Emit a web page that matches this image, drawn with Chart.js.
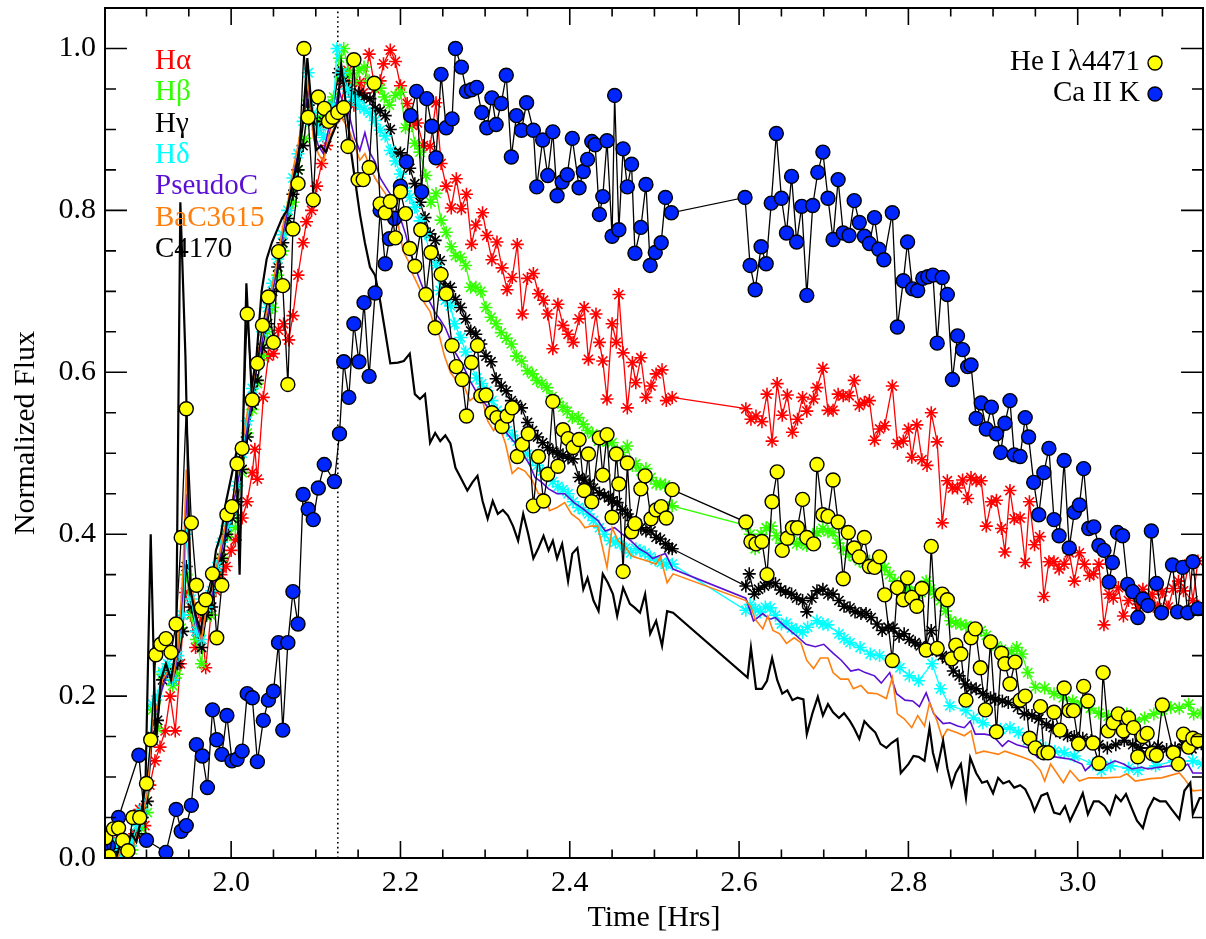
<!DOCTYPE html>
<html>
<head>
<meta charset="utf-8">
<script src="https://cdn.jsdelivr.net/npm/chart.js@4.4.1/dist/chart.umd.min.js"></script>
<style>
  html, body { margin: 0; padding: 0; background: #fff; }
  canvas { display: block; }
</style>
</head>
<body>
<canvas id="flare_chart" width="1206" height="939"></canvas>
<script>
// light curves, [time (hrs), normalized flux]
const hAlpha = [[1.853,0.01],[1.858,0.02],[1.863,0],[1.868,0.05],[1.874,0.02],[1.880,0.01],[1.886,0.03],[1.892,0.06],[1.898,0.04],[1.904,0.09],[1.910,0.12],[1.916,0.137],[1.922,0.157],[1.928,0.20],[1.934,0.157],[1.940,0.24],[1.946,0.328],[1.952,0.30],[1.958,0.26],[1.964,0.30],[1.970,0.235],[1.976,0.30],[1.982,0.33],[1.988,0.35],[1.994,0.36],[2.000,0.38],[2.005,0.393],[2.013,0.42],[2.019,0.44],[2.025,0.476],[2.028,0.505],[2.031,0.468],[2.038,0.569],[2.044,0.62],[2.050,0.623],[2.056,0.652],[2.062,0.66],[2.068,0.64],[2.073,0.67],[2.079,0.72],[2.085,0.76],[2.089,0.786],[2.095,0.80],[2.101,0.83],[2.107,0.858],[2.113,0.88],[2.120,0.915],[2.128,0.917],[2.134,0.957],[2.138,0.973],[2.145,0.93],[2.152,0.958],[2.156,0.945],[2.163,0.993],[2.170,0.95],[2.176,0.96],[2.180,0.981],[2.188,0.998],[2.194,0.984],[2.200,0.954],[2.208,0.932],[2.214,0.905],[2.220,0.908],[2.227,0.88],[2.235,0.879],[2.242,0.933],[2.248,0.858],[2.254,0.83],[2.260,0.803],[2.266,0.839],[2.272,0.802],[2.278,0.82],[2.284,0.758],[2.289,0.782],[2.297,0.797],[2.302,0.769],[2.308,0.739],[2.314,0.761],[2.320,0.729],[2.326,0.702],[2.332,0.717],[2.338,0.758],[2.344,0.672],[2.350,0.716],[2.357,0.722],[2.363,0.697],[2.369,0.689],[2.374,0.672],[2.380,0.629],[2.386,0.684],[2.392,0.658],[2.398,0.647],[2.404,0.637],[2.411,0.666],[2.417,0.68],[2.422,0.616],[2.431,0.672],[2.435,0.637],[2.439,0.614],[2.444,0.567],[2.450,0.66],[2.455,0.637],[2.458,0.696],[2.463,0.624],[2.468,0.556],[2.474,0.612],[2.478,0.587],[2.484,0.618],[2.490,0.569],[2.496,0.583],[2.502,0.598],[2.509,0.603],[2.514,0.565],[2.521,0.569],
  [2.608,0.555],[2.614,0.542],[2.620,0.546],[2.627,0.539],[2.633,0.573],[2.639,0.515],[2.645,0.586],[2.651,0.547],[2.657,0.572],[2.663,0.526],[2.669,0.542],[2.675,0.569],[2.680,0.552],[2.688,0.567],[2.692,0.581],[2.699,0.605],[2.705,0.553],[2.711,0.553],[2.717,0.573],[2.723,0.571],[2.730,0.571],[2.736,0.59],[2.742,0.559],[2.748,0.563],[2.754,0.565],[2.760,0.516],[2.766,0.53],[2.772,0.534],[2.781,0.583],[2.787,0.512],[2.794,0.515],[2.800,0.53],[2.804,0.495],[2.810,0.535],[2.816,0.492],[2.822,0.485],[2.827,0.55],[2.834,0.514],[2.840,0.414],[2.846,0.466],[2.852,0.457],[2.858,0.457],[2.864,0.467],[2.870,0.444],[2.874,0.47],[2.880,0.466],[2.886,0.466],[2.892,0.41],[2.898,0.44],[2.904,0.442],[2.910,0.407],[2.914,0.378],[2.920,0.454],[2.925,0.419],[2.932,0.42],[2.938,0.365],[2.943,0.44],[2.949,0.387],[2.955,0.397],[2.960,0.323],[2.966,0.366],[2.972,0.366],[2.978,0.357],[2.984,0.363],[2.990,0.377],[2.996,0.342],[3.002,0.377],[3.008,0.363],[3.014,0.349],[3.019,0.351],[3.025,0.363],[3.031,0.288],[3.037,0.326],[3.042,0.321],[3.048,0.334],[3.054,0.299],[3.060,0.318],[3.066,0.324],[3.071,0.309],[3.077,0.332],[3.083,0.314],[3.088,0.326],[3.094,0.309],[3.100,0.329],[3.107,0.31],[3.113,0.333],[3.119,0.342],[3.125,0.33],[3.131,0.363],[3.136,0.318],[3.142,0.367]];

const hBeta = [[1.853,0],[1.859,0.02],[1.865,0.01],[1.871,0],[1.877,0.02],[1.883,0.01],[1.889,0.03],[1.894,0.036],[1.901,0.056],[1.907,0.183],[1.913,0.16],[1.919,0.227],[1.925,0.234],[1.931,0.213],[1.936,0.227],[1.941,0.284],[1.947,0.35],[1.953,0.30],[1.959,0.27],[1.965,0.24],[1.970,0.299],[1.976,0.30],[1.983,0.346],[1.989,0.371],[1.995,0.397],[2.005,0.408],[2.013,0.476],[2.019,0.525],[2.025,0.554],[2.031,0.586],[2.037,0.62],[2.043,0.65],[2.049,0.68],[2.055,0.72],[2.061,0.75],[2.067,0.78],[2.073,0.81],[2.079,0.85],[2.087,0.889],[2.091,0.936],[2.097,0.92],[2.103,0.91],[2.109,0.92],[2.115,0.93],[2.121,0.94],[2.128,0.988],[2.133,1.0],[2.139,0.97],[2.145,0.96],[2.151,0.973],[2.157,0.977],[2.163,0.96],[2.169,0.955],[2.176,0.951],[2.181,0.94],[2.187,0.93],[2.194,0.942],[2.200,0.946],[2.206,0.902],[2.211,0.92],[2.217,0.883],[2.223,0.872],[2.230,0.843],[2.236,0.81],[2.242,0.821],[2.248,0.788],[2.254,0.773],[2.260,0.755],[2.265,0.744],[2.271,0.742],[2.277,0.732],[2.283,0.705],[2.289,0.705],[2.295,0.70],[2.301,0.68],[2.307,0.668],[2.313,0.66],[2.319,0.649],[2.325,0.642],[2.331,0.635],[2.337,0.62],[2.343,0.614],[2.350,0.602],[2.356,0.598],[2.361,0.59],[2.367,0.586],[2.373,0.581],[2.379,0.57],[2.386,0.563],[2.392,0.557],[2.397,0.552],[2.403,0.544],[2.410,0.544],[2.416,0.536],[2.421,0.528],[2.427,0.524],[2.434,0.515],[2.439,0.516],[2.445,0.514],[2.450,0.513],[2.456,0.503],[2.462,0.501],[2.468,0.509],[2.474,0.485],[2.478,0.487],[2.484,0.478],[2.490,0.481],[2.496,0.47],[2.502,0.462],[2.507,0.462],[2.513,0.461],[2.517,0.458],[2.521,0.435],
  [2.608,0.411],[2.613,0.40],[2.619,0.382],[2.626,0.40],[2.632,0.408],[2.638,0.41],[2.644,0.398],[2.650,0.389],[2.656,0.392],[2.662,0.402],[2.668,0.388],[2.674,0.39],[2.680,0.386],[2.687,0.398],[2.692,0.402],[2.699,0.407],[2.705,0.403],[2.711,0.402],[2.717,0.389],[2.723,0.382],[2.730,0.375],[2.736,0.372],[2.742,0.367],[2.748,0.364],[2.754,0.367],[2.760,0.361],[2.766,0.36],[2.772,0.359],[2.778,0.35],[2.784,0.342],[2.791,0.339],[2.797,0.334],[2.803,0.33],[2.809,0.33],[2.815,0.328],[2.821,0.342],[2.826,0.332],[2.832,0.326],[2.838,0.318],[2.844,0.305],[2.850,0.293],[2.856,0.29],[2.862,0.289],[2.868,0.287],[2.874,0.285],[2.880,0.283],[2.886,0.281],[2.892,0.275],[2.898,0.268],[2.904,0.262],[2.910,0.258],[2.916,0.252],[2.922,0.255],[2.928,0.26],[2.934,0.252],[2.941,0.229],[2.950,0.211],[2.961,0.21],[2.972,0.203],[2.983,0.198],[2.994,0.194],[3.004,0.19],[3.015,0.185],[3.025,0.179],[3.036,0.175],[3.047,0.178],[3.058,0.178],[3.068,0.169],[3.079,0.173],[3.090,0.178],[3.100,0.183],[3.110,0.186],[3.120,0.185],[3.131,0.19],[3.137,0.178],[3.146,0.179]];

const hGamma = [[1.853,0],[1.865,0.01],[1.877,0.02],[1.889,0.03],[1.895,0.05],[1.901,0.07],[1.907,0.15],[1.913,0.17],[1.919,0.22],[1.925,0.23],[1.931,0.22],[1.937,0.24],[1.943,0.28],[1.947,0.36],[1.953,0.31],[1.959,0.28],[1.965,0.26],[1.971,0.30],[1.977,0.31],[1.983,0.35],[1.989,0.37],[1.995,0.40],[2.001,0.42],[2.007,0.44],[2.013,0.48],[2.019,0.52],[2.025,0.56],[2.031,0.59],[2.037,0.63],[2.043,0.66],[2.049,0.70],[2.055,0.73],[2.061,0.76],[2.067,0.79],[2.073,0.82],[2.079,0.85],[2.085,0.88],[2.091,0.93],[2.097,0.91],[2.103,0.90],[2.109,0.91],[2.115,0.92],[2.121,0.93],[2.127,0.97],[2.133,0.96],[2.139,0.95],[2.145,0.94],[2.151,0.945],[2.157,0.94],[2.164,0.938],[2.170,0.926],[2.176,0.923],[2.182,0.917],[2.188,0.90],[2.194,0.871],[2.200,0.871],[2.206,0.86],[2.211,0.852],[2.217,0.833],[2.223,0.81],[2.229,0.791],[2.235,0.771],[2.241,0.763],[2.247,0.738],[2.253,0.705],[2.259,0.705],[2.265,0.69],[2.271,0.68],[2.277,0.666],[2.283,0.651],[2.289,0.647],[2.295,0.635],[2.301,0.62],[2.307,0.613],[2.313,0.592],[2.319,0.583],[2.325,0.577],[2.331,0.565],[2.337,0.56],[2.343,0.556],[2.350,0.538],[2.356,0.528],[2.362,0.52],[2.368,0.513],[2.374,0.507],[2.380,0.503],[2.386,0.499],[2.392,0.498],[2.398,0.494],[2.404,0.493],[2.411,0.47],[2.417,0.467],[2.423,0.462],[2.428,0.457],[2.435,0.451],[2.441,0.448],[2.446,0.445],[2.450,0.441],[2.456,0.439],[2.462,0.43],[2.468,0.425],[2.473,0.417],[2.479,0.413],[2.484,0.408],[2.490,0.404],[2.496,0.404],[2.502,0.396],[2.507,0.394],[2.513,0.388],[2.517,0.383],[2.521,0.382],
  [2.608,0.336],[2.612,0.351],[2.618,0.326],[2.623,0.332],[2.630,0.336],[2.636,0.34],[2.643,0.339],[2.649,0.331],[2.655,0.329],[2.662,0.326],[2.668,0.321],[2.675,0.318],[2.680,0.304],[2.686,0.321],[2.692,0.33],[2.699,0.332],[2.705,0.326],[2.711,0.326],[2.718,0.318],[2.724,0.311],[2.731,0.309],[2.737,0.304],[2.744,0.302],[2.750,0.302],[2.756,0.297],[2.763,0.289],[2.769,0.281],[2.776,0.285],[2.782,0.284],[2.789,0.274],[2.795,0.277],[2.801,0.27],[2.808,0.266],[2.814,0.262],[2.820,0.258],[2.827,0.281],[2.833,0.256],[2.840,0.25],[2.845,0.246],[2.853,0.231],[2.860,0.225],[2.867,0.215],[2.874,0.21],[2.880,0.209],[2.888,0.203],[2.897,0.198],[2.903,0.196],[2.911,0.194],[2.918,0.192],[2.929,0.186],[2.937,0.178],[2.946,0.176],[2.954,0.172],[2.963,0.165],[2.971,0.161],[2.979,0.155],[2.988,0.151],[2.996,0.15],[3.006,0.148],[3.016,0.145],[3.025,0.14],[3.035,0.136],[3.045,0.14],[3.055,0.145],[3.065,0.14],[3.074,0.136],[3.085,0.136],[3.095,0.138],[3.105,0.134],[3.115,0.136],[3.125,0.14],[3.135,0.135],[3.146,0.141]];

const hDelta = [[1.853,0],[1.859,0.01],[1.865,0.02],[1.871,0],[1.877,0.01],[1.883,0.02],[1.889,0.04],[1.895,0.06],[1.901,0.09],[1.907,0.19],[1.913,0.20],[1.919,0.23],[1.925,0.24],[1.931,0.22],[1.937,0.25],[1.943,0.30],[1.947,0.40],[1.953,0.32],[1.959,0.28],[1.965,0.27],[1.971,0.31],[1.977,0.33],[1.983,0.36],[1.989,0.39],[1.995,0.41],[2.001,0.43],[2.007,0.46],[2.013,0.50],[2.019,0.54],[2.025,0.58],[2.031,0.61],[2.037,0.65],[2.043,0.68],[2.049,0.71],[2.055,0.74],[2.061,0.77],[2.067,0.80],[2.073,0.84],[2.079,0.87],[2.085,0.91],[2.091,0.97],[2.097,0.92],[2.103,0.90],[2.109,0.89],[2.115,0.91],[2.121,0.93],[2.125,1.0],[2.131,0.97],[2.137,0.95],[2.143,0.94],[2.148,0.935],[2.152,0.929],[2.157,0.925],[2.164,0.92],[2.170,0.911],[2.176,0.899],[2.182,0.892],[2.188,0.874],[2.194,0.861],[2.200,0.845],[2.206,0.824],[2.211,0.816],[2.217,0.804],[2.223,0.787],[2.229,0.771],[2.235,0.746],[2.242,0.732],[2.247,0.701],[2.253,0.689],[2.259,0.682],[2.264,0.66],[2.271,0.643],[2.277,0.625],[2.283,0.61],[2.290,0.593],[2.296,0.586],[2.302,0.577],[2.308,0.565],[2.314,0.553],[2.320,0.54],[2.326,0.528],[2.332,0.522],[2.338,0.515],[2.344,0.505],[2.350,0.499],[2.356,0.492],[2.362,0.485],[2.368,0.478],[2.374,0.472],[2.380,0.465],[2.386,0.459],[2.392,0.455],[2.398,0.45],[2.404,0.44],[2.410,0.433],[2.416,0.43],[2.422,0.425],[2.428,0.417],[2.435,0.408],[2.441,0.40],[2.448,0.392],[2.454,0.39],[2.460,0.388],[2.466,0.383],[2.472,0.377],[2.478,0.382],[2.483,0.38],[2.489,0.377],[2.495,0.372],[2.501,0.368],[2.508,0.365],[2.514,0.363],[2.521,0.363],
  [2.608,0.306],[2.613,0.313],[2.619,0.308],[2.625,0.304],[2.631,0.31],[2.637,0.309],[2.643,0.30],[2.650,0.289],[2.656,0.29],[2.662,0.284],[2.668,0.282],[2.675,0.279],[2.681,0.285],[2.692,0.293],[2.699,0.289],[2.705,0.288],[2.718,0.277],[2.724,0.271],[2.731,0.266],[2.743,0.26],[2.755,0.252],[2.766,0.25],[2.790,0.235],[2.801,0.225],[2.812,0.219],[2.828,0.24],[2.838,0.209],[2.849,0.188],[2.868,0.182],[2.877,0.173],[2.888,0.167],[2.909,0.159],[2.920,0.161],[2.930,0.155],[2.941,0.145],[2.952,0.141],[2.962,0.136],[2.973,0.132],[2.984,0.13],[2.996,0.126],[3.018,0.116],[3.028,0.108],[3.039,0.114],[3.060,0.111],[3.071,0.108],[3.092,0.114],[3.114,0.12],[3.136,0.12],[3.147,0.116]];

const pseudoC = [[1.853,0],[1.859,0.01],[1.865,0],[1.871,0.01],[1.877,0.02],[1.883,0.01],[1.889,0.03],[1.895,0.05],[1.901,0.08],[1.907,0.16],[1.913,0.19],[1.919,0.21],[1.925,0.23],[1.931,0.22],[1.937,0.25],[1.943,0.33],[1.947,0.45],[1.953,0.33],[1.959,0.29],[1.965,0.27],[1.971,0.31],[1.977,0.32],[1.983,0.36],[1.989,0.38],[1.995,0.41],[2.001,0.43],[2.007,0.46],[2.013,0.49],[2.019,0.53],[2.025,0.57],[2.031,0.61],[2.037,0.64],[2.043,0.67],[2.049,0.70],[2.055,0.73],[2.061,0.77],[2.067,0.80],[2.073,0.84],[2.079,0.87],[2.085,0.91],[2.091,0.95],[2.097,0.90],[2.103,0.88],[2.109,0.87],[2.115,0.90],[2.121,0.91],[2.127,0.95],[2.133,0.93],[2.139,0.92],[2.146,0.889],[2.152,0.874],[2.158,0.896],[2.164,0.871],[2.170,0.86],[2.176,0.84],[2.182,0.83],[2.188,0.82],[2.194,0.806],[2.200,0.79],[2.206,0.771],[2.212,0.746],[2.218,0.728],[2.224,0.711],[2.230,0.695],[2.235,0.686],[2.242,0.672],[2.247,0.665],[2.253,0.655],[2.259,0.64],[2.265,0.624],[2.274,0.608],[2.282,0.59],[2.289,0.577],[2.297,0.565],[2.306,0.553],[2.317,0.54],[2.326,0.524],[2.336,0.512],[2.346,0.497],[2.352,0.487],[2.359,0.47],[2.367,0.464],[2.375,0.456],[2.385,0.45],[2.394,0.45],[2.405,0.439],[2.415,0.432],[2.423,0.425],[2.433,0.417],[2.442,0.404],[2.453,0.408],[2.462,0.40],[2.472,0.392],[2.482,0.382],[2.492,0.376],[2.498,0.37],[2.505,0.373],[2.513,0.376],[2.519,0.363],[2.522,0.357],
  [2.608,0.321],[2.617,0.293],[2.628,0.302],[2.636,0.295],[2.643,0.297],[2.653,0.287],[2.665,0.277],[2.679,0.264],[2.690,0.261],[2.700,0.264],[2.711,0.253],[2.721,0.244],[2.732,0.231],[2.741,0.233],[2.749,0.229],[2.760,0.225],[2.768,0.216],[2.778,0.229],[2.786,0.203],[2.796,0.195],[2.805,0.194],[2.813,0.187],[2.821,0.204],[2.830,0.178],[2.841,0.166],[2.849,0.167],[2.858,0.163],[2.866,0.161],[2.873,0.169],[2.879,0.153],[2.890,0.153],[2.900,0.151],[2.911,0.138],[2.918,0.145],[2.928,0.14],[2.942,0.136],[2.953,0.124],[2.966,0.126],[2.979,0.124],[2.992,0.122],[3.005,0.116],[3.009,0.108],[3.021,0.12],[3.032,0.114],[3.044,0.12],[3.054,0.116],[3.064,0.11],[3.075,0.112],[3.083,0.11],[3.095,0.112],[3.109,0.114],[3.121,0.11],[3.130,0.116],[3.136,0.105],[3.147,0.105]];

const baC3615 = [[1.853,0],[1.859,0.01],[1.865,0],[1.871,0.01],[1.877,0.02],[1.883,0.01],[1.889,0.03],[1.895,0.05],[1.901,0.08],[1.907,0.17],[1.913,0.19],[1.919,0.22],[1.925,0.23],[1.931,0.22],[1.937,0.26],[1.943,0.35],[1.947,0.48],[1.953,0.34],[1.959,0.30],[1.965,0.27],[1.971,0.31],[1.977,0.33],[1.983,0.36],[1.989,0.39],[1.995,0.42],[2.001,0.44],[2.007,0.47],[2.013,0.51],[2.019,0.55],[2.025,0.58],[2.031,0.62],[2.037,0.65],[2.043,0.68],[2.049,0.71],[2.055,0.74],[2.061,0.78],[2.067,0.81],[2.073,0.85],[2.079,0.88],[2.085,0.92],[2.091,0.96],[2.097,0.89],[2.103,0.87],[2.109,0.86],[2.115,0.89],[2.121,0.90],[2.127,0.92],[2.133,0.91],[2.139,0.90],[2.146,0.88],[2.152,0.862],[2.158,0.87],[2.164,0.853],[2.170,0.84],[2.176,0.83],[2.182,0.821],[2.188,0.808],[2.196,0.791],[2.203,0.75],[2.209,0.738],[2.215,0.72],[2.222,0.705],[2.228,0.686],[2.235,0.675],[2.238,0.664],[2.245,0.649],[2.252,0.62],[2.259,0.60],[2.266,0.59],[2.276,0.581],[2.282,0.565],[2.288,0.57],[2.296,0.569],[2.303,0.54],[2.310,0.528],[2.316,0.536],[2.324,0.512],[2.332,0.475],[2.339,0.482],[2.347,0.478],[2.356,0.466],[2.363,0.45],[2.370,0.45],[2.376,0.429],[2.385,0.433],[2.394,0.439],[2.402,0.425],[2.411,0.418],[2.418,0.408],[2.425,0.41],[2.433,0.41],[2.444,0.359],[2.450,0.408],[2.457,0.392],[2.465,0.385],[2.473,0.373],[2.482,0.37],[2.492,0.367],[2.502,0.363],[2.507,0.372],[2.515,0.34],[2.522,0.351],
  [2.608,0.318],[2.614,0.31],[2.619,0.295],[2.628,0.283],[2.634,0.299],[2.640,0.281],[2.648,0.277],[2.656,0.265],[2.665,0.272],[2.673,0.266],[2.680,0.244],[2.688,0.234],[2.696,0.247],[2.705,0.247],[2.711,0.229],[2.720,0.221],[2.729,0.221],[2.735,0.209],[2.744,0.213],[2.752,0.204],[2.763,0.203],[2.774,0.197],[2.781,0.223],[2.787,0.178],[2.795,0.172],[2.804,0.161],[2.811,0.176],[2.819,0.163],[2.825,0.192],[2.834,0.169],[2.840,0.148],[2.846,0.159],[2.857,0.155],[2.866,0.151],[2.874,0.157],[2.880,0.129],[2.889,0.132],[2.898,0.13],[2.906,0.128],[2.914,0.132],[2.936,0.124],[2.946,0.12],[2.956,0.108],[2.961,0.095],[2.968,0.116],[2.983,0.093],[2.991,0.108],[3.002,0.095],[3.013,0.099],[3.033,0.099],[3.050,0.1],[3.058,0.104],[3.068,0.095],[3.086,0.098],[3.099,0.099],[3.120,0.105],[3.126,0.098],[3.136,0.083],[3.149,0.084]];

const c4170 = [[1.852,0],[1.858,0.01],[1.864,0],[1.870,0.02],[1.876,0.01],[1.882,0.03],[1.888,0.02],[1.894,0.05],[1.899,0.10],[1.905,0.40],[1.911,0.14],[1.917,0.22],[1.923,0.24],[1.929,0.22],[1.935,0.26],[1.940,0.81],[1.946,0.62],[1.952,0.33],[1.958,0.30],[1.964,0.28],[1.970,0.32],[1.976,0.33],[1.982,0.38],[1.988,0.40],[1.994,0.44],[2.000,0.47],[2.006,0.50],[2.010,0.35],[2.018,0.71],[2.024,0.58],[2.030,0.62],[2.036,0.70],[2.042,0.74],[2.048,0.76],[2.054,0.775],[2.060,0.79],[2.066,0.80],[2.072,0.83],[2.078,0.858],[2.084,0.90],[2.090,0.988],[2.094,0.94],[2.100,0.874],[2.106,0.88],[2.112,0.872],[2.118,0.89],[2.124,0.905],[2.130,0.98],[2.136,0.927],[2.142,0.87],[2.146,0.84],[2.152,0.796],[2.158,0.76],[2.164,0.73],[2.170,0.72],[2.176,0.688],[2.182,0.65],[2.188,0.611],[2.197,0.612],[2.204,0.614],[2.211,0.623],[2.217,0.573],[2.223,0.567],[2.229,0.573],[2.235,0.513],[2.241,0.525],[2.247,0.515],[2.253,0.522],[2.259,0.512],[2.265,0.482],[2.271,0.47],[2.279,0.454],[2.285,0.464],[2.291,0.472],[2.297,0.441],[2.303,0.419],[2.309,0.441],[2.315,0.425],[2.321,0.43],[2.327,0.423],[2.333,0.41],[2.339,0.392],[2.345,0.425],[2.351,0.40],[2.357,0.37],[2.363,0.383],[2.369,0.398],[2.375,0.38],[2.380,0.392],[2.385,0.37],[2.391,0.388],[2.398,0.342],[2.403,0.376],[2.409,0.383],[2.416,0.332],[2.421,0.346],[2.428,0.318],[2.434,0.305],[2.439,0.351],[2.445,0.34],[2.451,0.326],[2.456,0.299],[2.463,0.334],[2.471,0.314],[2.477,0.309],[2.483,0.303],[2.489,0.326],[2.495,0.277],[2.502,0.293],[2.509,0.262],[2.515,0.305],[2.522,0.303],
  [2.610,0.223],[2.614,0.26],[2.620,0.209],[2.627,0.209],[2.633,0.219],[2.639,0.247],[2.645,0.22],[2.651,0.203],[2.657,0.207],[2.663,0.195],[2.669,0.198],[2.676,0.196],[2.680,0.153],[2.687,0.18],[2.693,0.199],[2.699,0.176],[2.705,0.19],[2.711,0.18],[2.718,0.173],[2.724,0.179],[2.731,0.169],[2.736,0.16],[2.742,0.147],[2.748,0.169],[2.755,0.161],[2.761,0.155],[2.767,0.141],[2.774,0.136],[2.780,0.142],[2.787,0.147],[2.791,0.105],[2.800,0.116],[2.806,0.126],[2.812,0.125],[2.819,0.12],[2.825,0.161],[2.829,0.13],[2.834,0.11],[2.841,0.145],[2.846,0.111],[2.851,0.089],[2.856,0.105],[2.862,0.116],[2.868,0.074],[2.873,0.124],[2.880,0.105],[2.887,0.093],[2.893,0.095],[2.900,0.08],[2.906,0.099],[2.912,0.092],[2.919,0.095],[2.925,0.087],[2.932,0.09],[2.938,0.085],[2.945,0.07],[2.949,0.058],[2.957,0.077],[2.964,0.08],[2.972,0.056],[2.979,0.054],[2.985,0.064],[2.991,0.046],[3.001,0.068],[3.006,0.08],[3.012,0.054],[3.019,0.07],[3.025,0.07],[3.032,0.064],[3.038,0.054],[3.045,0.077],[3.051,0.07],[3.057,0.079],[3.064,0.061],[3.070,0.046],[3.077,0.037],[3.083,0.06],[3.090,0.074],[3.097,0.07],[3.104,0.07],[3.111,0.06],[3.120,0.048],[3.126,0.083],[3.133,0.093],[3.136,0.054],[3.144,0.074],[3.149,0.074]];

const heI4471 = [[1.852,0.025],[1.856,0.002],[1.861,0.036],[1.867,0.037],[1.872,0.022],[1.878,0.009],[1.884,0.05],[1.892,0.05],[1.900,0.092],[1.905,0.146],[1.911,0.251],[1.917,0.264],[1.923,0.271],[1.929,0.254],[1.935,0.289],[1.941,0.396],[1.947,0.555],[1.953,0.414],[1.959,0.337],[1.965,0.309],[1.970,0.319],[1.978,0.351],[1.983,0.272],[1.989,0.337],[1.995,0.424],[2.001,0.434],[2.007,0.487],[2.013,0.506],[2.019,0.672],[2.025,0.566],[2.031,0.611],[2.037,0.658],[2.044,0.693],[2.050,0.637],[2.056,0.749],[2.061,0.707],[2.067,0.585],[2.073,0.777],[2.079,0.833],[2.086,1.0],[2.091,0.915],[2.097,0.813],[2.103,0.94],[2.110,0.926],[2.115,0.91],[2.120,0.915],[2.126,0.921],[2.133,0.927],[2.138,0.879],[2.145,0.986],[2.150,0.838],[2.156,0.838],[2.163,0.853],[2.169,0.957],[2.176,0.808],[2.182,0.797],[2.188,0.811],[2.194,0.766],[2.200,0.823],[2.206,0.796],[2.211,0.753],[2.217,0.731],[2.224,0.776],[2.230,0.696],[2.236,0.748],[2.241,0.655],[2.248,0.721],[2.254,0.697],[2.261,0.633],[2.266,0.607],[2.273,0.591],[2.278,0.546],[2.284,0.612],[2.291,0.633],[2.295,0.571],[2.301,0.572],[2.308,0.55],[2.314,0.544],[2.320,0.533],[2.326,0.546],[2.332,0.556],[2.338,0.496],[2.344,0.511],[2.351,0.524],[2.357,0.435],[2.363,0.496],[2.369,0.441],[2.374,0.474],[2.380,0.564],[2.386,0.484],[2.392,0.529],[2.398,0.518],[2.404,0.507],[2.411,0.517],[2.417,0.454],[2.422,0.499],[2.426,0.44],[2.435,0.519],[2.439,0.473],[2.444,0.523],[2.450,0.421],[2.455,0.499],[2.458,0.462],[2.463,0.354],[2.468,0.488],[2.473,0.403],[2.477,0.413],[2.484,0.456],[2.489,0.472],[2.496,0.419],[2.502,0.43],[2.508,0.434],[2.514,0.42],[2.521,0.455],
  [2.608,0.415],[2.614,0.391],[2.620,0.388],[2.627,0.391],[2.633,0.35],[2.639,0.44],[2.645,0.477],[2.651,0.38],[2.657,0.395],[2.663,0.408],[2.669,0.408],[2.675,0.443],[2.680,0.396],[2.688,0.388],[2.692,0.486],[2.699,0.424],[2.705,0.422],[2.711,0.467],[2.717,0.415],[2.723,0.345],[2.729,0.402],[2.736,0.383],[2.742,0.372],[2.748,0.396],[2.754,0.36],[2.760,0.359],[2.766,0.372],[2.772,0.325],[2.781,0.244],[2.787,0.334],[2.794,0.319],[2.799,0.346],[2.804,0.322],[2.810,0.311],[2.816,0.333],[2.821,0.257],[2.827,0.385],[2.834,0.259],[2.840,0.326],[2.846,0.319],[2.851,0.246],[2.856,0.263],[2.862,0.252],[2.868,0.195],[2.874,0.272],[2.879,0.283],[2.885,0.235],[2.891,0.183],[2.897,0.267],[2.904,0.156],[2.910,0.253],[2.914,0.24],[2.920,0.215],[2.926,0.242],[2.932,0.195],[2.938,0.2],[2.943,0.148],[2.950,0.136],[2.956,0.187],[2.960,0.13],[2.965,0.13],[2.972,0.18],[2.979,0.158],[2.984,0.21],[2.990,0.182],[2.995,0.182],[3.001,0.141],[3.007,0.212],[3.012,0.194],[3.018,0.142],[3.025,0.117],[3.030,0.229],[3.036,0.157],[3.042,0.167],[3.048,0.178],[3.054,0.157],[3.060,0.173],[3.066,0.161],[3.071,0.125],[3.077,0.15],[3.082,0.154],[3.088,0.129],[3.093,0.127],[3.100,0.189],[3.113,0.13],[3.119,0.116],[3.125,0.153],[3.131,0.137],[3.136,0.148],[3.142,0.145]];

const caIIK = [[1.855,0.015],[1.867,0.05],[1.891,0.127],[1.900,0.022],[1.923,0.007],[1.935,0.06],[1.941,0.033],[1.947,0.04],[1.953,0.065],[1.959,0.14],[1.966,0.126],[1.972,0.087],[1.978,0.183],[1.983,0.146],[1.989,0.128],[1.995,0.176],[2.001,0.12],[2.007,0.122],[2.013,0.132],[2.019,0.203],[2.025,0.198],[2.031,0.119],[2.038,0.17],[2.044,0.195],[2.050,0.206],[2.056,0.266],[2.061,0.158],[2.067,0.266],[2.073,0.329],[2.079,0.289],[2.085,0.449],[2.091,0.431],[2.097,0.418],[2.103,0.457],[2.110,0.486],[2.122,0.465],[2.128,0.524],[2.133,0.613],[2.139,0.569],[2.145,0.66],[2.151,0.613],[2.157,0.686],[2.163,0.595],[2.170,0.698],[2.176,0.80],[2.182,0.734],[2.187,0.765],[2.193,0.79],[2.200,0.83],[2.207,0.86],[2.212,0.917],[2.219,0.947],[2.225,0.823],[2.231,0.938],[2.237,0.904],[2.242,0.865],[2.248,0.968],[2.254,0.902],[2.261,0.913],[2.265,1.0],[2.272,0.977],[2.278,0.947],[2.284,0.949],[2.290,0.952],[2.296,0.921],[2.302,0.902],[2.308,0.939],[2.313,0.906],[2.319,0.932],[2.325,0.967],[2.331,0.866],[2.337,0.917],[2.343,0.899],[2.349,0.933],[2.357,0.899],[2.361,0.829],[2.368,0.887],[2.374,0.843],[2.380,0.897],[2.385,0.818],[2.391,0.835],[2.397,0.844],[2.403,0.889],[2.411,0.828],[2.416,0.848],[2.421,0.863],[2.426,0.885],[2.430,0.881],[2.435,0.795],[2.439,0.817],[2.444,0.886],[2.450,0.768],[2.453,0.942],[2.458,0.776],[2.463,0.876],[2.468,0.829],[2.473,0.857],[2.477,0.747],[2.484,0.779],[2.490,0.832],[2.495,0.732],[2.501,0.748],[2.508,0.76],[2.513,0.816],[2.520,0.797],
  [2.607,0.816],[2.613,0.732],[2.619,0.702],[2.626,0.755],[2.632,0.734],[2.638,0.809],[2.644,0.895],[2.650,0.815],[2.656,0.772],[2.662,0.842],[2.668,0.761],[2.674,0.805],[2.680,0.695],[2.687,0.806],[2.693,0.847],[2.699,0.872],[2.705,0.815],[2.711,0.764],[2.717,0.838],[2.723,0.772],[2.730,0.769],[2.736,0.812],[2.742,0.785],[2.748,0.768],[2.754,0.759],[2.760,0.791],[2.765,0.752],[2.771,0.739],[2.781,0.797],[2.787,0.656],[2.794,0.713],[2.799,0.761],[2.805,0.703],[2.811,0.701],[2.817,0.716],[2.823,0.718],[2.829,0.72],[2.834,0.636],[2.840,0.717],[2.846,0.696],[2.852,0.591],[2.858,0.645],[2.864,0.628],[2.870,0.607],[2.874,0.609],[2.880,0.543],[2.886,0.562],[2.892,0.53],[2.898,0.557],[2.904,0.524],[2.909,0.501],[2.914,0.537],[2.920,0.565],[2.925,0.498],[2.932,0.496],[2.938,0.544],[2.942,0.52],[2.948,0.464],[2.954,0.424],[2.960,0.476],[2.966,0.506],[2.972,0.418],[2.978,0.398],[2.984,0.491],[2.990,0.383],[2.996,0.427],[3.002,0.436],[3.007,0.481],[3.013,0.407],[3.019,0.409],[3.025,0.386],[3.031,0.38],[3.037,0.341],[3.041,0.365],[3.047,0.402],[3.053,0.398],[3.059,0.338],[3.065,0.329],[3.071,0.297],[3.077,0.32],[3.083,0.312],[3.087,0.404],[3.093,0.339],[3.099,0.303],[3.112,0.362],[3.118,0.304],[3.124,0.359],[3.130,0.303],[3.136,0.366],[3.142,0.308]];

// axis layout
const xRange = [1.851, 3.148];
const yRange = [0, 1.05];
const xMinorTicks = [1.90, 1.95, 2.05, 2.10, 2.15, 2.25, 2.30, 2.35, 2.45, 2.50, 2.55, 2.65, 2.70, 2.75, 2.85, 2.90, 2.95, 3.05, 3.10];
const yMinorTicks = [0.05, 0.10, 0.15, 0.25, 0.30, 0.35, 0.45, 0.50, 0.55, 0.65, 0.70, 0.75, 0.85, 0.90, 0.95, 1.00];
const peakTime = 2.126;

const leftLegend = [
    ['H\u03b1', '#ff0000'],
    ['H\u03b2', '#33ff00'],
    ['H\u03b3', '#000000'],
    ['H\u03b4', '#00ffff'],
    ['PseudoC', '#5a0fd2'],
    ['BaC3615', '#ff7f0e'],
    ['C4170', '#000000']
];
const rightLegend = [
    ['He I \u03bb4471', '#ffff00'],
    ['Ca II K', '#0026ff']
];

const SERIF = '"Liberation Serif", "Times New Roman", serif';

function pts(arr) {
    return arr.map(([x, y]) => ({x: x, y: y}));
}

function starSeries(label, arr, color) {
    return {
        label: label,
        data: pts(arr),
        borderColor: color,
        borderWidth: 1.3,
        pointStyle: 'star',
        pointRadius: 6.5,
        pointBorderColor: color,
        pointBorderWidth: 1.6,
        pointBackgroundColor: color
    };
}

function lineSeries(label, arr, color, width) {
    return {
        label: label,
        data: pts(arr),
        borderColor: color,
        borderWidth: width,
        pointRadius: 0
    };
}

function circleSeries(label, arr, fill) {
    return {
        label: label,
        data: pts(arr),
        borderColor: '#000',
        borderWidth: 1.3,
        pointStyle: 'circle',
        pointRadius: 7,
        pointBackgroundColor: fill,
        pointBorderColor: '#000',
        pointBorderWidth: 1.4
    };
}

// scales keep their fixed box; no extra room for the end labels
function fixBox(width, height) {
    return (s) => {
        if (width) s.width = width;
        if (height) s.height = height;
        s.paddingTop = 0;
        s.paddingBottom = 0;
        s.paddingLeft = 0;
        s.paddingRight = 0;
    };
}

// axes box with inward ticks on all four sides, dotted peak marker, legends
const frameAxes = {
    id: 'frameAxes',
    beforeDatasetsDraw(chart) {
        const {ctx, chartArea: a, scales: {x}} = chart;
        const px = x.getPixelForValue(peakTime);
        ctx.save();
        ctx.strokeStyle = '#000';
        ctx.lineWidth = 1.6;
        ctx.setLineDash([1.6, 3.2]);
        ctx.beginPath();
        ctx.moveTo(px, a.bottom);
        ctx.lineTo(px, a.top);
        ctx.stroke();
        ctx.restore();
    },
    afterDatasetsDraw(chart) {
        const {ctx, chartArea: a, scales: {x, y}} = chart;
        const w = a.right - a.left, h = a.bottom - a.top;
        const xLen = 0.02 * h, yLen = 0.02 * w;
        ctx.save();
        ctx.strokeStyle = '#000';
        ctx.lineWidth = 1.6;
        ctx.beginPath();
        x.ticks.forEach(t => {
            const p = x.getPixelForValue(t.value);
            ctx.moveTo(p, a.bottom); ctx.lineTo(p, a.bottom - xLen);
            ctx.moveTo(p, a.top); ctx.lineTo(p, a.top + xLen);
        });
        xMinorTicks.forEach(v => {
            const p = x.getPixelForValue(v);
            ctx.moveTo(p, a.bottom); ctx.lineTo(p, a.bottom - xLen / 2);
            ctx.moveTo(p, a.top); ctx.lineTo(p, a.top + xLen / 2);
        });
        y.ticks.forEach(t => {
            const p = y.getPixelForValue(t.value);
            ctx.moveTo(a.left, p); ctx.lineTo(a.left + yLen, p);
            ctx.moveTo(a.right, p); ctx.lineTo(a.right - yLen, p);
        });
        yMinorTicks.forEach(v => {
            const p = y.getPixelForValue(v);
            ctx.moveTo(a.left, p); ctx.lineTo(a.left + yLen / 2, p);
            ctx.moveTo(a.right, p); ctx.lineTo(a.right - yLen / 2, p);
        });
        ctx.stroke();
        ctx.lineWidth = 2;
        ctx.strokeRect(a.left, a.top, w, h);

        ctx.font = '29px ' + SERIF;
        ctx.textBaseline = 'alphabetic';
        ctx.textAlign = 'left';
        leftLegend.forEach(([txt, col], i) => {
            ctx.fillStyle = col;
            ctx.fillText(txt, a.left + 50, a.top + 61 + i * 31.3);
        });
        ctx.textAlign = 'right';
        rightLegend.forEach(([txt, col], i) => {
            const yy = a.top + 62 + i * 31;
            ctx.fillStyle = '#000';
            ctx.fillText(txt, a.right - 63, yy);
            ctx.beginPath();
            ctx.arc(a.right - 48, yy - 7, 7, 0, Math.PI * 2);
            ctx.fillStyle = col;
            ctx.fill();
            ctx.lineWidth = 1.4;
            ctx.stroke();
        });
        ctx.restore();
    }
};

new Chart(document.getElementById('flare_chart'), {
    type: 'line',
    data: {
        datasets: [
            circleSeries('He I 4471', heI4471, '#ffff00'),
            circleSeries('Ca II K', caIIK, '#0026ff'),
            lineSeries('C4170', c4170, '#000000', 2.2),
            lineSeries('BaC3615', baC3615, '#ff7f0e', 1.6),
            lineSeries('PseudoC', pseudoC, '#5a0fd2', 1.6),
            starSeries('Hdelta', hDelta, '#00ffff'),
            starSeries('Hgamma', hGamma, '#000000'),
            starSeries('Hbeta', hBeta, '#33ff00'),
            starSeries('Halpha', hAlpha, '#ff0000')
        ]
    },
    options: {
        responsive: false,
        animation: false,
        devicePixelRatio: 1,
        layout: {autoPadding: false, padding: {top: 8, right: 3, left: 0, bottom: 0}},
        elements: {line: {tension: 0}},
        plugins: {
            legend: {display: false},
            tooltip: {enabled: false}
        },
        scales: {
            x: {
                type: 'linear',
                min: xRange[0],
                max: xRange[1],
                grid: {display: false, drawTicks: false},
                border: {display: false},
                ticks: {
                    stepSize: 0.2,
                    includeBounds: false,
                    autoSkip: false,
                    maxRotation: 0,
                    padding: 7,
                    color: '#000',
                    font: {family: SERIF, size: 30},
                    callback: (v) => v.toFixed(1)
                },
                title: {
                    display: true,
                    text: 'Time [Hrs]',
                    color: '#000',
                    font: {family: SERIF, size: 30},
                    padding: {top: 0, bottom: 3}
                },
                afterFit: fixBox(0, 81)
            },
            y: {
                type: 'linear',
                min: yRange[0],
                max: yRange[1],
                grid: {display: false, drawTicks: false},
                border: {display: false},
                ticks: {
                    stepSize: 0.2,
                    includeBounds: false,
                    padding: 9,
                    color: '#000',
                    font: {family: SERIF, size: 30},
                    callback: (v) => v.toFixed(1)
                },
                title: {
                    display: true,
                    text: 'Normalized Flux',
                    color: '#000',
                    font: {family: SERIF, size: 30},
                    padding: {top: 8, bottom: 0}
                },
                afterFit: fixBox(105, 0)
            }
        }
    },
    plugins: [frameAxes]
});
</script>
</body>
</html>
